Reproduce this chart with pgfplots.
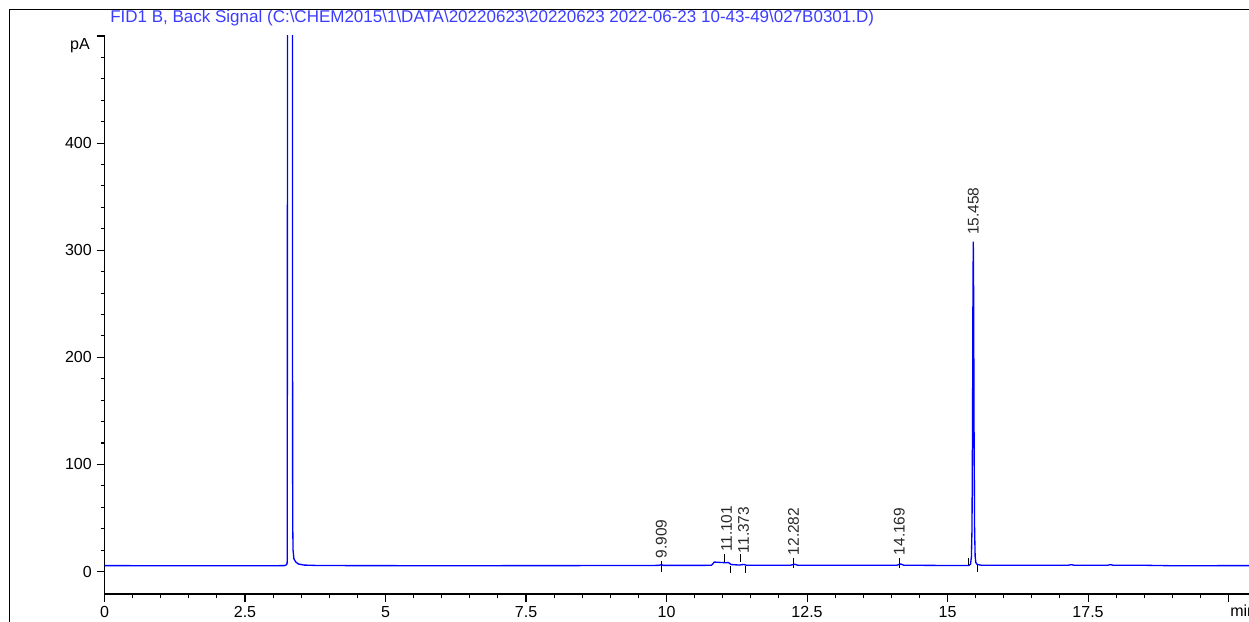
\documentclass[border=0pt]{standalone}
\usepackage{fontspec}
\setmainfont{Liberation Sans}
\usepackage{pgfplots}
\pgfplotsset{compat=1.18}

\definecolor{sigblue}{RGB}{0,0,255}
\definecolor{titleblue}{RGB}{60,60,255}
\definecolor{lbl}{RGB}{40,40,40}

\begin{document}
\begin{tikzpicture}
\begin{axis}[
    at={(78.375pt,20.25pt)}, anchor=south west,
    scale only axis, width=859.9pt, height=418.5pt,
    xmin=0, xmax=20.4, ymin=-21, ymax=500,
    axis lines=left,
    axis line style={-, black, line width=1pt},
    clip mode=individual,
    tick align=outside,
    major tick length=6pt, minor tick length=3pt,
    every tick/.style={black, line width=0.8pt},
    xtick={0,2.5,5,7.5,10,12.5,15,17.5,20},
    xticklabels={0,2.5,5,7.5,10,12.5,15,17.5,{}},
    ytick={0,100,200,300,400,500},
    yticklabels={0,100,200,300,400,{}},
    minor x tick num=4, minor y tick num=4,
    tick label style={font=\fontsize{12}{14}\selectfont, text=black},
    /pgf/number format/assume math mode=true,
]

% FID signal
\addplot[sigblue, line width=1pt] coordinates {
  (0,5.5) (1,5.4) (2,5.4) (3,5.4) (3.2,5.5) (3.24,6.4) (3.25,8)
  (3.252,40) (3.256,520) (3.30,1000) (3.344,520) (3.347,100)
  (3.35,40) (3.355,20) (3.37,12) (3.40,9) (3.45,7) (3.55,6) (3.8,5.6)
  (4.5,5.5) (6,5.4) (8,5.5) (9.5,5.6) (9.85,5.7) (9.909,6.3) (9.95,5.7)
  (10.5,5.7) (10.8,5.8) (10.85,8.8) (11.05,8.2) (11.101,8.4) (11.15,6.5)
  (11.3,6.0) (11.373,6.6) (11.42,5.9) (12.2,5.8) (12.282,6.8) (12.33,5.9)
  (13,5.8) (14.1,5.9) (14.169,7.0) (14.22,5.9) (14.5,5.8) (15.0,5.6)
  (15.38,5.6) (15.41,7) (15.425,14) (15.435,40) (15.445,140) (15.452,260)
  (15.458,308) (15.464,260) (15.471,140) (15.481,40) (15.491,14)
  (15.505,8) (15.53,6.5) (15.6,5.9) (16,5.8) (17.15,5.9) (17.2,6.4)
  (17.25,5.9) (17.85,5.9) (17.9,6.4) (17.95,5.8) (18.5,5.8) (19,5.4)
  (20.5,5.5)
};

% peak markers and retention-time labels
\draw[black, line width=0.75pt] (axis cs:9.909,0) -- (axis cs:9.909,10);
\draw[black, line width=0.75pt] (axis cs:11.04,9) -- (axis cs:11.04,16);
\draw[black, line width=0.75pt] (axis cs:11.14,-1) -- (axis cs:11.14,5);
\draw[black, line width=0.75pt] (axis cs:11.31,9) -- (axis cs:11.31,16);
\draw[black, line width=0.75pt] (axis cs:11.41,-1) -- (axis cs:11.41,5);
\draw[black, line width=0.75pt] (axis cs:12.26,3) -- (axis cs:12.26,13);
\draw[black, line width=0.75pt] (axis cs:14.14,3) -- (axis cs:14.14,13);
\draw[black, line width=0.75pt] (axis cs:15.38,6) -- (axis cs:15.38,13);
\draw[black, line width=0.75pt] (axis cs:15.54,-0.5) -- (axis cs:15.54,6);

\begin{scope}[every node/.style={rotate=90, anchor=west, inner sep=0pt,
    font=\fontsize{11.6}{13}\selectfont, text=lbl}]
\node at (axis cs:9.909,12) {9.909};
\node at (axis cs:11.07,18) {11.101};
\node at (axis cs:11.37,17) {11.373};
\node at (axis cs:12.26,15) {12.282};
\node at (axis cs:14.14,15) {14.169};
\node at (axis cs:15.458,314) {15.458};
\end{scope}

\node[anchor=east, inner sep=0pt, xshift=-10.9pt,
      font=\fontsize{12}{14}\selectfont] at (axis cs:0,491) {pA};
\node[anchor=west, inner sep=0pt, xshift=1.1pt, yshift=-12.75pt,
      font=\fontsize{12}{14}\selectfont] at (axis cs:20,-21) {min};
\end{axis}

% title and outer frame
\node[anchor=base west, inner sep=0pt, text=titleblue,
      font=\fontsize{12.75}{15}\selectfont] at (82.5pt,448.7pt)
  {FID1 B, Back Signal (C:\textbackslash CHEM2015\textbackslash 1\textbackslash DATA\textbackslash 20220623\textbackslash 20220623 2022-06-23 10-43-49\textbackslash 027B0301.D)};
\draw[black, line width=1.1pt] (7.1pt,-2pt) -- (7.1pt,458.6pt) -- (940pt,458.6pt);

\pgfresetboundingbox
\path[use as bounding box] (0pt,0pt) rectangle (936.75pt,465.75pt);
\end{tikzpicture}
\end{document}
